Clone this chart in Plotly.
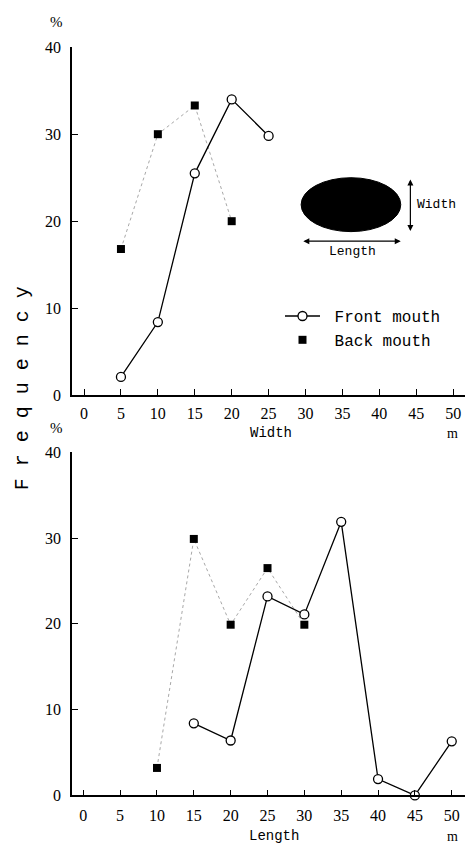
import plotly.graph_objects as go

W, H = 466, 858

# ---- data ----
x_ticks = [0, 5, 10, 15, 20, 25, 30, 35, 40, 45, 50]
y_ticks = [0, 10, 20, 30, 40]

width_front_x = [5, 10, 15, 20, 25]
width_front_y = [2.1, 8.4, 25.5, 34.0, 29.8]
width_back_x = [5, 10, 15, 20]
width_back_y = [16.8, 30.0, 33.3, 20.0]

length_front_x = [15, 20, 25, 30, 35, 40, 45, 50]
length_front_y = [8.4, 6.4, 23.2, 21.1, 31.9, 1.9, 0.0, 6.3]
length_back_x = [10, 15, 20, 25, 30]
length_back_y = [3.2, 29.9, 19.9, 26.5, 19.9]

MONO = "Liberation Mono"
SERIF = "Liberation Serif"

def py(px):
    return 1 - px / H

def pxx(px):
    return px / W

fig = go.Figure()

def add_panel(xa, ya, fx, fy, bx, by, legend):
    fig.add_trace(go.Scatter(x=bx, y=by, mode="lines", xaxis=xa, yaxis=ya,
                             line=dict(color="#a8a8a8", width=1, dash="dot"),
                             showlegend=False, hoverinfo="skip", cliponaxis=False))
    fig.add_trace(go.Scatter(x=fx, y=fy, mode="lines+markers", xaxis=xa, yaxis=ya,
                             name="\u00a0Front mouth", showlegend=legend,
                             line=dict(color="black", width=1.3),
                             marker=dict(symbol="circle", size=9, color="white",
                                         line=dict(color="black", width=1.3)),
                             cliponaxis=False))
    fig.add_trace(go.Scatter(x=bx, y=by, mode="markers", xaxis=xa, yaxis=ya,
                             name="\u00a0Back mouth", showlegend=legend,
                             marker=dict(symbol="square", size=8, color="black"),
                             cliponaxis=False))

add_panel("x", "y", width_front_x, width_front_y, width_back_x, width_back_y, True)
add_panel("x2", "y2", length_front_x, length_front_y, length_back_x, length_back_y, False)

axis_common = dict(showline=True, linecolor="black", linewidth=1.6, ticks="inside",
                   ticklen=6, tickwidth=1.4, tickcolor="black", showgrid=False,
                   zeroline=False, tickfont=dict(family=SERIF, size=16, color="black"))

fig.update_layout(
    width=W, height=H, autosize=False,
    margin=dict(l=0, r=0, t=0, b=0),
    paper_bgcolor="white", plot_bgcolor="white",
    xaxis=dict(domain=[pxx(72), pxx(465)], range=[-1.63, 51.6], anchor="y",
               tickvals=x_ticks, ticklabelstandoff=3, **axis_common),
    yaxis=dict(domain=[py(395), py(40)], range=[0, 40], anchor="x",
               tickvals=y_ticks, ticklabelstandoff=6, **axis_common),
    xaxis2=dict(domain=[pxx(72), pxx(465)], range=[-1.53, 51.8], anchor="y2",
                tickvals=x_ticks, ticklabelstandoff=5, **axis_common),
    yaxis2=dict(domain=[py(803.3), py(453.3)], range=[0, 40], anchor="x2",
                tickvals=y_ticks, ticklabelstandoff=6, **axis_common),
    legend=dict(x=pxx(280), y=py(297), xanchor="left", yanchor="top",
                bgcolor="rgba(0,0,0,0)", font=dict(family=MONO, size=16, color="black"),
                itemwidth=35, tracegroupgap=0, borderwidth=0),
    showlegend=True,
)

annots = []
def txt(text, x, y, size=15, family=MONO, angle=0):
    annots.append(dict(text=text, x=pxx(x), y=py(y), xref="paper", yref="paper",
                       showarrow=False, font=dict(family=family, size=size, color="black"),
                       textangle=angle, xanchor="center", yanchor="middle"))

txt("%", 56, 14, size=15, family=SERIF)
txt("%", 56, 428, size=15, family=SERIF)
txt("Width", 271, 434, size=14)
txt("m", 452, 434, size=14, family=SERIF)
txt("Length", 274, 845, size=14)
txt("m", 452, 845, size=14, family=SERIF)
txt("F r e q u e n c y", 22, 388, size=20, angle=-90)

# diagram labels (data coords of top panel)
annots.append(dict(text="Width", x=44.8, y=21.9, xref="x", yref="y", showarrow=False,
                   xanchor="left", font=dict(family=MONO, size=13, color="black")))
annots.append(dict(text="Length", x=36.4, y=16.5, xref="x", yref="y", showarrow=False,
                   xanchor="center", font=dict(family=MONO, size=13, color="black")))
# double-headed arrows
annots.append(dict(x=44.2, y=24.8, ax=44.2, ay=18.7, xref="x", yref="y", axref="x", ayref="y",
                   text="", showarrow=True, arrowhead=2, arrowside="end+start",
                   arrowsize=1, arrowwidth=1.2, arrowcolor="black"))
annots.append(dict(x=42.9, y=17.7, ax=29.5, ay=17.7, xref="x", yref="y", axref="x", ayref="y",
                   text="", showarrow=True, arrowhead=2, arrowside="end+start",
                   arrowsize=1, arrowwidth=1.2, arrowcolor="black"))
fig.update_layout(annotations=annots)

fig.add_shape(type="circle", xref="x", yref="y", x0=29.4, x1=42.9, y0=18.8, y1=25.0,
              fillcolor="black", line=dict(color="black", width=1))

fig.write_html("out.html")
